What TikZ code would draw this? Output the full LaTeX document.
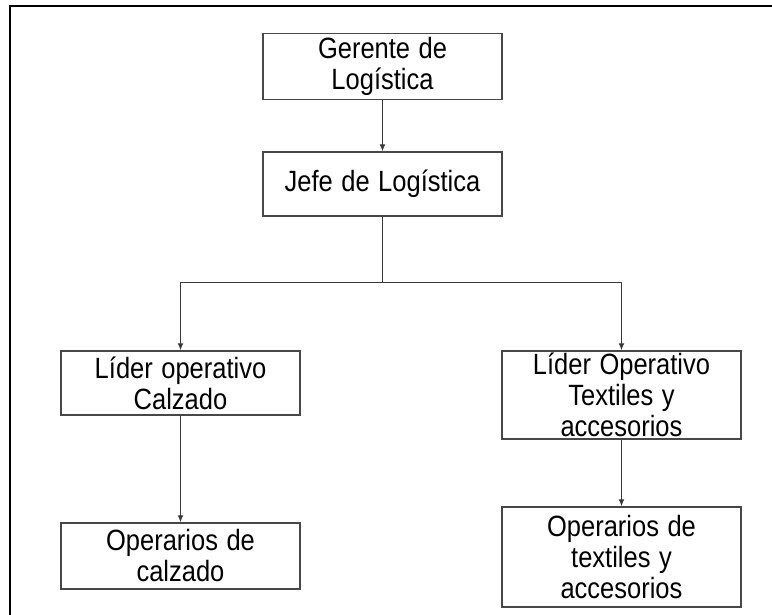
\documentclass[tikz,border=0pt]{standalone}
\usepackage{fontspec}
\setmainfont{Liberation Sans}
\usetikzlibrary{arrows.meta}
\newcommand{\tl}[1]{\scalebox{1}[1.15]{#1}}
\newcommand{\boxfont}{\fontsize{25.5}{31}\selectfont\lineskiplimit=-40pt\relax}
\begin{document}
\begin{tikzpicture}[x=1pt,y=1pt,
  box/.style={draw=black!72, line width=1.4pt, minimum width=239pt, text width=235pt, align=center, inner sep=0pt,
    font=\boxfont, text=black},
  conn/.style={draw=black!78, line width=1.3pt},
  arr/.style={conn, -{Latex[length=7pt,width=6pt]}}]
\useasboundingbox (0,0) rectangle (772,614);
\draw[line width=2pt] (9.5,-2) -- (9.5,608) -- (774,608);
\node[box, minimum height=66pt] (g) at (382.5,547.5) {\tl{Gerente de}\\\tl{Logística}};
\node[box, minimum height=64pt] (j) at (382.5,430) {\tl{Jefe de Logística}};
\node[box, minimum height=64pt] (lc) at (180.5,231) {\tl{Líder operativo}\\\tl{Calzado}};
\node[box, minimum height=88pt] (lt) at (621.5,219) {\tl{Líder Operativo}\\\tl{Textiles y}\\\tl{accesorios}};
\node[box, minimum height=66pt] (oc) at (180.5,58) {\tl{Operarios de}\\\tl{calzado}};
\node[box, minimum height=100pt] (ot) at (621.5,57) {\tl{Operarios de}\\\tl{textiles y}\\\tl{accesorios}};
\coordinate (bus) at (382.5,331.3);
\draw[arr] (g.south) -- (j.north);
\draw[arr] (j.south) -- (bus) -| (lc.north);
\draw[arr] (bus) -| (lt.north);
\draw[arr] (lc.south) -- (oc.north);
\draw[arr] (lt.south) -- (ot.north);
\end{tikzpicture}
\end{document}
